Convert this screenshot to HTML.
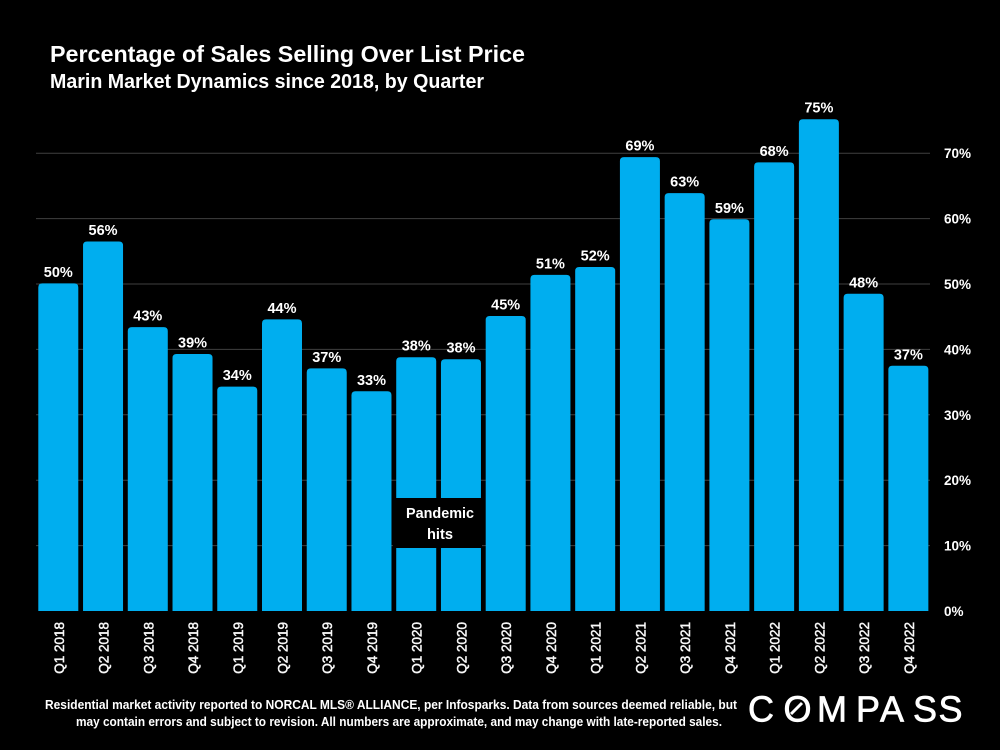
<!DOCTYPE html>
<html lang="en">
<head>
<meta charset="utf-8">
<title>Percentage of Sales Selling Over List Price</title>
<style>
html,body{margin:0;padding:0;background:#000;width:1000px;height:750px;overflow:hidden}
svg{display:block}
text{font-family:"Liberation Sans",sans-serif;fill:#fff}
</style>
</head>
<body>
<svg id="chart" width="1000" height="750" viewBox="0 0 1000 750" xmlns="http://www.w3.org/2000/svg">
<rect width="1000" height="750" fill="#000"/>
<text x="50" y="62" font-size="23" font-weight="700" fill="#f4f4f4" textLength="475" lengthAdjust="spacingAndGlyphs">Percentage of Sales Selling Over List Price</text>
<text x="50" y="88" font-size="20" font-weight="700" fill="#f4f4f4" textLength="434" lengthAdjust="spacingAndGlyphs">Marin Market Dynamics since 2018, by Quarter</text>
<g id="grid"></g>
<g id="bars"></g>
<g id="value-labels"></g>
<g id="y-ticks"></g>
<g id="x-ticks"></g>
<g>
<rect x="393" y="498" width="89" height="50" fill="#000"/>
<text x="440" y="518" font-size="14.5" font-weight="700" text-anchor="middle" textLength="68" lengthAdjust="spacingAndGlyphs">Pandemic</text>
<text x="440" y="539" font-size="14.5" font-weight="700" text-anchor="middle" textLength="26" lengthAdjust="spacingAndGlyphs">hits</text>
</g>
<text x="45" y="709" font-size="12.5" font-weight="700" fill="#e8e8e8" textLength="692" lengthAdjust="spacingAndGlyphs">Residential market activity reported to NORCAL MLS® ALLIANCE, per Infosparks. Data from sources deemed reliable, but</text>
<text x="76" y="726" font-size="12.5" font-weight="700" fill="#e8e8e8" textLength="646" lengthAdjust="spacingAndGlyphs">may contain errors and subject to revision. All numbers are approximate, and may change with late-reported sales.</text>
<g>
<text x="748 783.5 817 856 880 913 938.5" y="721.5" font-size="36" stroke="#fff" stroke-width="0.7">COMPASS</text>
<line x1="791" y1="714" x2="802" y2="703" stroke="#fff" stroke-width="3"/>
</g>
</svg>
<script>
const categories = ["Q1 2018","Q2 2018","Q3 2018","Q4 2018","Q1 2019","Q2 2019","Q3 2019","Q4 2019","Q1 2020","Q2 2020","Q3 2020","Q4 2020","Q1 2021","Q2 2021","Q3 2021","Q4 2021","Q1 2022","Q2 2022","Q3 2022","Q4 2022"];
const seriesValues = [50.1,56.5,43.4,39.3,34.3,44.6,37.1,33.6,38.8,38.5,45.1,51.4,52.6,69.4,63.9,59.9,68.6,75.2,48.5,37.5];
const yTicks = [0,10,20,30,40,50,60,70];

const NS = "http://www.w3.org/2000/svg";
const plotBottom = 611, pxPerUnit = 6.54;
const firstCenter = 58.3, pitch = 44.74, barWidth = 40, radius = 4;
const gridLeft = 36, gridRight = 930;

function yScale(v){ return plotBottom - v * pxPerUnit; }
function xScale(i){ return firstCenter + i * pitch; }
function make(tag, attrs, parent, content){
  const el = document.createElementNS(NS, tag);
  for (const k in attrs) el.setAttribute(k, attrs[k]);
  if (content !== undefined) el.textContent = content;
  document.getElementById(parent).appendChild(el);
  return el;
}

yTicks.forEach(function(t){
  if (t > 0) {
    const line = make("line", {x1:gridLeft, x2:gridRight, y1:yScale(t), y2:yScale(t), stroke:"#404040", "stroke-width":1}, "grid");
    
    
  }
  const label = make("text", {x:944, y:yScale(t)+5, "font-size":13.5, "font-weight":700, fill:"#ececec"}, "y-ticks", t + "%");
  
  
});

seriesValues.forEach(function(v, i){
  const cx = xScale(i), top = yScale(v), l = cx - barWidth/2, r = cx + barWidth/2;
  const d = "M" + l + " " + plotBottom + "V" + (top+radius) + "Q" + l + " " + top + " " + (l+radius) + " " + top +
            "H" + (r-radius) + "Q" + r + " " + top + " " + r + " " + (top+radius) + "V" + plotBottom + "Z";
  const bar = make("path", {d:d, fill:"#00aeef"}, "bars");
  
  

  const value = make("text", {x:cx, y:top-6.5, "font-size":14.5, "font-weight":700, "text-anchor":"middle", fill:"#f4f4f4"}, "value-labels", Math.floor(v) + "%");
  
  

  const cat = make("text", {transform:"translate(" + (cx+5.5) + ",622) rotate(-90)", "font-size":13.5, "text-anchor":"end", stroke:"#f0f0f0", "stroke-width":0.5, fill:"#f0f0f0"}, "x-ticks", categories[i]);
  
  
});
</script>
</body>
</html>
